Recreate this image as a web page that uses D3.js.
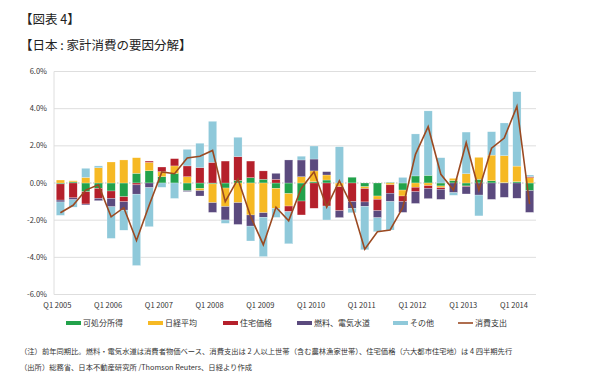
<!DOCTYPE html>
<html lang="ja">
<head>
<meta charset="utf-8">
<title>日本：家計消費の要因分解</title>
<script src="https://d3js.org/d3.v7.min.js"></script>
<style>
  body { margin: 0; background: #fff; }
  svg { font-family: "Noto Sans CJK JP", "Noto Sans", sans-serif; }
  .tick-y { font-size: 7.5px; fill: #333; }
  .tick-x { font-size: 7.5px; fill: #333; }
  .legend text { font-size: 8px; fill: #333; }
  .note { font-size: 7.3px; fill: #333; }
</style>
</head>
<body>
<script>
// quarters Q1 2005 .. Q2 2014
const years = [2005, 2006, 2007, 2008, 2009, 2010, 2011, 2012, 2013, 2014];
const quarters = [];
years.forEach(y => [1, 2, 3, 4].forEach(q => quarters.push("Q" + q + " " + y)));
quarters.splice(38);

const seriesNames = ["可処分所得", "日経平均", "住宅価格", "燃料、電気水道", "その他"];
const lineName = "消費支出";

// contributions (% pt)
const disposable = [-0.05, 0.06, -0.47, -0.29, -0.43, -0.74, 0.52, 0.66, 0.34, 0.52,
  -0.41, -0.29, -0.05, -0.27, 0.14, 0.29, 0.2, -0.29, -0.57, -0.97,
  0.07, 0.16, 0, 0.31, -0.2, -0.7, 0.03, -0.38, 0.38, 0.41,
  -0.16, 0.13, -0.16, 0.2, 0.12, 0.02, 0.07, -0.41];
const nikkei = [0.16, 0.06, 0.3, 0.82, 1.13, 1.24, 0.84, 0.45, 0.27, 0.4,
  0.34, -0.12, -1.01, -1.0, -1.06, -1.72, -1.6, -1.07, -0.67, 0.34,
  0.58, 0.27, -0.2, 0, -0.1, -0.18, -0.1, -0.32, -0.23, -0.14,
  -0.09, 0.12, 0.5, 1.18, 1.38, 1.45, 0.84, 0.29];
const housing = [-0.87, -0.8, -0.66, -0.54, -0.4, -0.27, -0.1, 0.07, 0.25, 0.39,
  0.58, 0.83, 1.11, 1.18, 1.28, 0.89, 0.45, 0.2, -0.3, -0.75,
  -1.36, -1.24, -1.29, -1.0, -0.72, -0.61, -0.45, -0.3, -0.24, -0.15,
  -0.09, 0, -0.04, 0, 0, 0, 0, 0.05];
const fuel = [-0.1, -0.1, -0.05, -0.12, -0.45, -0.45, -0.5, -0.25, 0, 0,
  -0.05, -0.29, -0.52, -0.72, -1.17, -0.6, -0.24, 0.32, 1.24, 0.9,
  0.64, 0.18, -0.37, -0.36, -0.24, -0.38, -0.45, -0.58, -0.63, -0.55,
  -0.54, -0.52, -0.39, -0.65, -0.88, -0.77, -0.82, -1.17];
const other = [-0.72, -0.4, 0.49, 0.1, -1.7, -1.08, -3.84, -2.1, -0.23, -0.83,
  0.89, 1.31, 2.21, -0.18, 1.04, -0.8, -2.12, -0.49, -1.73, 0.2,
  0.7, -0.75, 1.95, -0.24, -2.33, -0.75, -1.53, 0.3, 2.26, 3.47,
  1.36, -0.14, 2.24, -1.12, 1.26, 1.76, 4.0, 0.09];
const spending = [-1.6, -1.2, -0.38, -0.1, -1.82, -1.33, -3.09, -1.2, 0.6, 0.5,
  1.35, 1.44, 1.75, -1.0, 0.22, -1.8, -3.32, -1.3, -2.03, -0.28,
  0.6, -1.3, 0.12, -1.25, -3.56, -2.62, -2.53, -1.32, 1.54, 3.03,
  0.47, -0.38, 2.17, -0.38, 1.87, 2.42, 4.12, -1.13];

const yTicks = [-6, -4, -2, 0, 2, 4, 6];

const colors = ["#22a24b", "#f6b924", "#b5202b", "#5b4a7e", "#8fc9da"];
const lineColor = "#9b4a22";

const w = 600, h = 390;
const svg = d3.select("body").append("svg").attr("width", w).attr("height", h);

// titles
svg.append("text").attr("x", 20).attr("y", 24).attr("font-size", 12.5).attr("fill", "#222").text("【図表 4】");
svg.append("text").attr("x", 20).attr("y", 50).attr("font-size", 12.5).attr("fill", "#222").text("【日本 : 家計消費の要因分解】");

const xScale = d3.scaleBand().domain(quarters).range([54, 536]).paddingInner(0.35).paddingOuter(0.18);
const yScale = d3.scaleLinear().domain([-6, 6]).range([294.5, 71.5]);

// grid
svg.append("g").selectAll("line").data(yTicks).enter().append("line")
  .attr("x1", 54).attr("x2", 536)
  .attr("y1", d => yScale(d)).attr("y2", d => yScale(d))
  .attr("stroke", d => d === 0 ? "#bbb" : "#dedede")
  .attr("stroke-width", 1)
  .attr("stroke-dasharray", d => d === 0 ? "1.5,1.5" : null);
svg.append("line").attr("x1", 54).attr("x2", 54).attr("y1", yScale(6)).attr("y2", yScale(-6)).attr("stroke", "#dedede");

svg.append("g").selectAll("text").data(yTicks).enter().append("text")
  .attr("class", "tick-y").attr("x", 47).attr("y", d => yScale(d) + 2.6)
  .attr("text-anchor", "end").text(d => d.toFixed(1) + "%");

// stacked bars
const rows = quarters.map((q, i) => ({
  q: q, s0: disposable[i], s1: nikkei[i], s2: housing[i], s3: fuel[i], s4: other[i]
}));
const stack = d3.stack().keys(["s0", "s1", "s2", "s3", "s4"])
  .order(d3.stackOrderNone).offset(d3.stackOffsetDiverging);
const layers = stack(rows);

svg.append("g").selectAll("g").data(layers).enter().append("g")
  .attr("fill", (d, i) => colors[i])
  .selectAll("rect").data(d => d).enter().append("rect")
  .attr("x", d => xScale(d.data.q))
  .attr("width", xScale.bandwidth())
  .attr("y", d => yScale(Math.max(d[0], d[1])))
  .attr("height", d => Math.abs(yScale(d[0]) - yScale(d[1])))
  .attr("stroke", "#fff").attr("stroke-width", 0.4).attr("stroke-opacity", 0.6);

// line
const line = d3.line()
  .x((d, i) => xScale(quarters[i]) + xScale.bandwidth() / 2)
  .y(d => yScale(d));
svg.append("path").datum(spending).attr("d", line)
  .attr("fill", "none").attr("stroke", lineColor).attr("stroke-width", 1.6);

// x labels
svg.append("g").selectAll("text").data(years).enter().append("text")
  .attr("class", "tick-x")
  .attr("x", d => xScale("Q1 " + d) + xScale.bandwidth() / 2 - 3)
  .attr("y", 308).attr("text-anchor", "middle")
  .text(d => "Q1 " + d);

// legend
const legX = [66, 148, 223, 297, 393, 458];
const leg = svg.append("g").attr("class", "legend");
seriesNames.forEach((n, i) => {
  leg.append("rect").attr("x", legX[i]).attr("y", 321).attr("width", 15).attr("height", 4).attr("fill", colors[i]);
  leg.append("text").attr("x", legX[i] + 17).attr("y", 326).text(n);
});
leg.append("line").attr("x1", legX[5]).attr("x2", legX[5] + 15).attr("y1", 323).attr("y2", 323)
  .attr("stroke", lineColor).attr("stroke-width", 1.6);
leg.append("text").attr("x", legX[5] + 17).attr("y", 326).text(lineName);

// notes
svg.append("text").attr("class", "note").attr("x", 20).attr("y", 354)
  .text("（注）前年同期比。燃料・電気水道は消費者物価ベース、消費支出は 2 人以上世帯（含む農林漁家世帯）、住宅価格（六大都市住宅地）は 4 四半期先行");
svg.append("text").attr("class", "note").attr("x", 20).attr("y", 370)
  .text("（出所）総務省、日本不動産研究所 /Thomson Reuters、日経より作成");
</script>
</body>
</html>
